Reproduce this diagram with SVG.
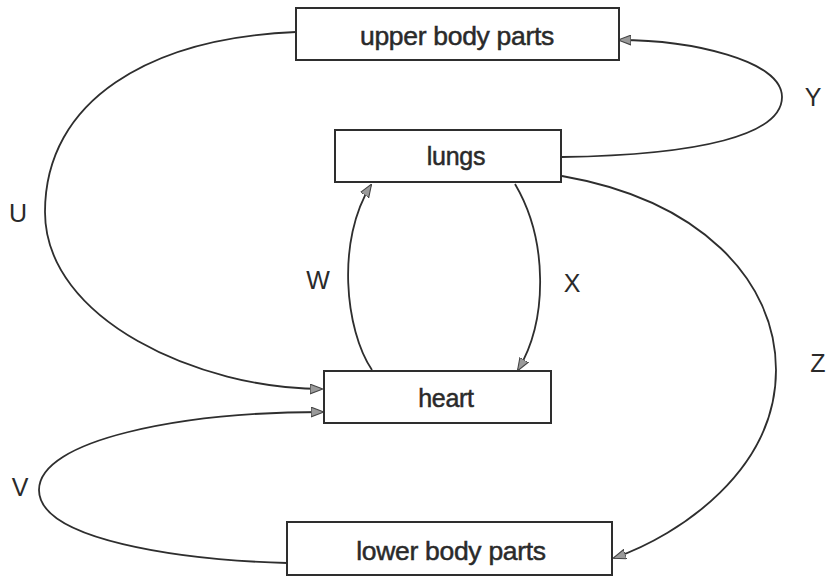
<svg xmlns="http://www.w3.org/2000/svg" width="827" height="578" viewBox="0 0 827 578">
<style>
.box{fill:#fff;stroke:#2e2e2e;stroke-width:2}
.t{font-family:"Liberation Sans",Arial,sans-serif;font-size:25px;fill:#2a2a2a;stroke:#2a2a2a;stroke-width:0.5;text-anchor:middle;letter-spacing:-0.3px}
.lbl{font-family:"Liberation Sans",Arial,sans-serif;font-size:25px;fill:#2a2a2a;text-anchor:middle}
.c{fill:none;stroke:#2e2e2e;stroke-width:1.8;marker-end:url(#ah)}
</style>
<defs>
<marker id="ah" viewBox="0 0 12 10" refX="11" refY="5" markerWidth="13" markerHeight="11" markerUnits="userSpaceOnUse" orient="auto">
<path d="M0,0.5 L12,5 L0,9.5 z" fill="#9a9a9a" stroke="#444" stroke-width="1"/>
</marker>
</defs>
<rect width="827" height="578" fill="#fff"/>
<g id="connectors">
<path id="U" class="c" d="M296,32 C150,38 45,100 45,212 C45,320 200,389 322,389"/>
<path id="V" class="c" d="M287,563 C180,560 39,540 39,490 C39,440 180,412 323,412"/>
<path id="W" class="c" d="M372,370 C345,330 336,240 371,185"/>
<path id="X" class="c" d="M515,184 C548,240 548,320 518,370"/>
<path id="Y" class="c" d="M562,157 C700,155 782,135 782,97 C782,60 690,40 619,40"/>
<path id="Z" class="c" d="M562,176 C700,200 776,280 776,370 C776,470 680,535 614,558"/>
</g>
<g id="upper">
<rect class="box" x="296" y="8" width="323" height="52"/>
<text class="t" x="457" y="45" style="font-size:26.5px">upper body parts</text>
</g>
<g id="lungs">
<rect class="box" x="335" y="130" width="226" height="52"/>
<text class="t" x="456" y="165">lungs</text>
</g>
<g id="heart">
<rect class="box" x="324" y="371" width="227" height="52"/>
<text class="t" x="446" y="407">heart</text>
</g>
<g id="lower">
<rect class="box" x="287" y="522" width="325" height="53"/>
<text class="t" x="451" y="560" style="font-size:26.5px">lower body parts</text>
</g>
<g id="labels">
<text class="lbl" x="18" y="222">U</text>
<text class="lbl" x="20" y="496">V</text>
<text class="lbl" x="318" y="289">W</text>
<text class="lbl" x="572" y="292">X</text>
<text class="lbl" x="813" y="106">Y</text>
<text class="lbl" x="818" y="372">Z</text>
</g>
</svg>
